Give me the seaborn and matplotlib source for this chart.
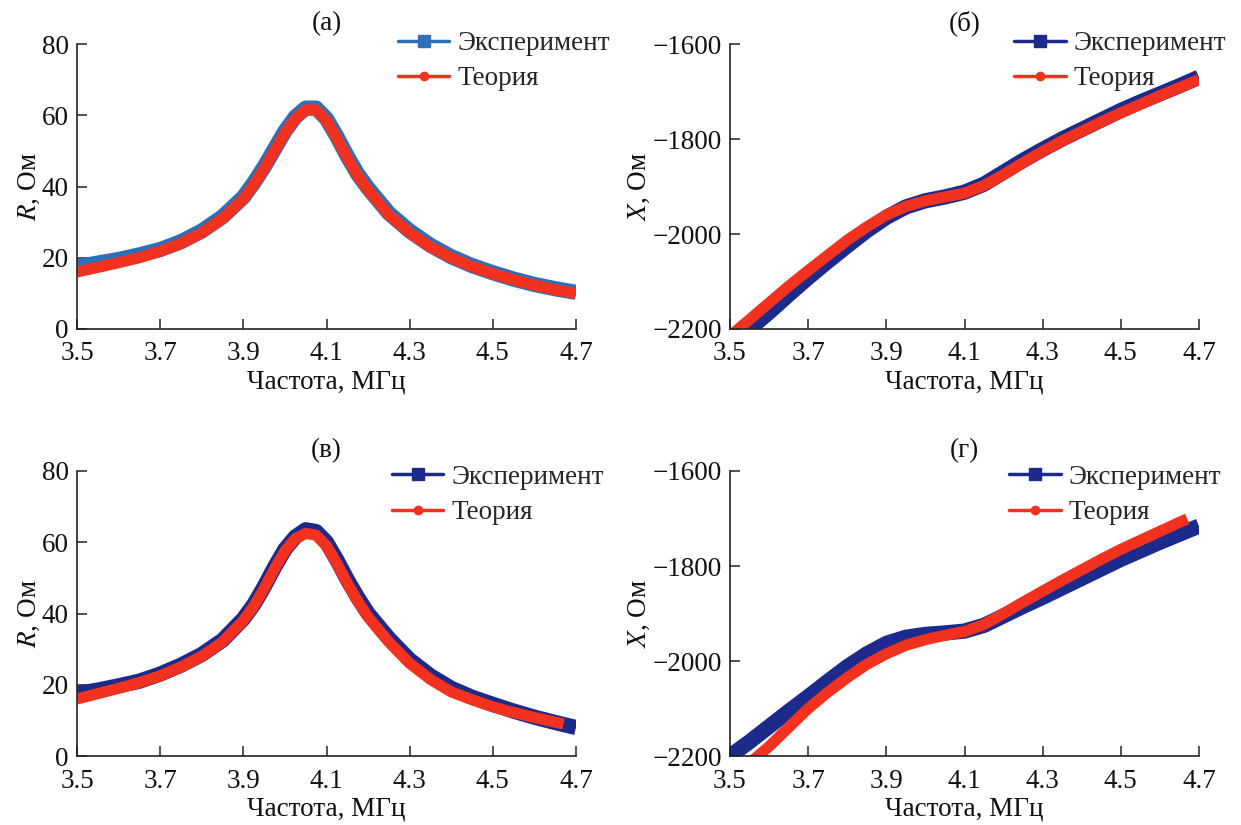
import matplotlib
matplotlib.use("Agg")
import matplotlib.pyplot as plt
from matplotlib.lines import Line2D
import seaborn as sns
import pandas as pd

# ---------------- data ----------------
freq = [3.50, 3.55, 3.60, 3.65, 3.70, 3.75, 3.80, 3.85, 3.90, 3.95, 4.00, 4.05,
        4.10, 4.15, 4.20, 4.25, 4.30, 4.35, 4.40, 4.45, 4.50, 4.55, 4.60, 4.65, 4.70]
freq_short = [3.50, 3.55, 3.60, 3.65, 3.70, 3.75, 3.80, 3.85, 3.90, 3.95, 4.00, 4.05,
              4.10, 4.15, 4.20, 4.25, 4.30, 4.35, 4.40, 4.45, 4.50, 4.55, 4.60, 4.65, 4.67]
freq_r = [3.50, 3.55, 3.60, 3.65, 3.70, 3.75, 3.80, 3.85, 3.90, 3.925, 3.95, 3.975,
          4.00, 4.025, 4.05, 4.075, 4.10, 4.125, 4.15, 4.175, 4.20, 4.25, 4.30, 4.35,
          4.40, 4.45, 4.50, 4.55, 4.60, 4.65, 4.70]
freq_r_short = [3.50, 3.55, 3.60, 3.65, 3.70, 3.75, 3.80, 3.85, 3.90, 3.925, 3.95, 3.975,
                4.00, 4.025, 4.05, 4.075, 4.10, 4.125, 4.15, 4.175, 4.20, 4.25, 4.30, 4.35,
                4.40, 4.45, 4.50, 4.55, 4.60, 4.65, 4.67]

# (а) R
r_exp_a = [17.5, 18.5, 19.5, 20.8, 22.3, 24.5, 27.5, 31.5, 37.0, 41.0, 45.5, 50.5,
           55.5, 59.5, 62.0, 62.0, 59.0, 54.0, 48.5, 43.5, 39.5, 32.5, 27.5, 23.5,
           20.3, 17.8, 15.8, 14.0, 12.5, 11.3, 10.3]
r_th_a = [16.0, 17.3, 18.6, 20.0, 21.8, 24.0, 27.0, 31.0, 36.5, 40.5, 45.0, 50.0,
          55.0, 59.0, 61.5, 61.5, 58.5, 53.5, 48.0, 43.0, 39.0, 32.0, 27.0, 23.0,
          20.0, 17.5, 15.5, 13.8, 12.3, 11.0, 10.0]

# (б) X
x_exp_b = [-2235, -2200, -2165, -2128, -2092, -2058, -2025, -1993, -1965, -1943, -1930, -1922,
           -1912, -1895, -1870, -1845, -1822, -1800, -1780, -1760, -1740, -1722, -1705, -1688, -1670]
x_th_b = [-2215, -2180, -2145, -2110, -2077, -2045, -2013, -1985, -1960, -1942, -1930, -1922,
          -1914, -1898, -1875, -1850, -1826, -1804, -1784, -1764, -1745, -1727, -1709, -1692, -1675]

# (в) R
r_exp_v = [17.5, 18.5, 19.7, 21.0, 23.0, 25.5, 28.5, 32.5, 38.5, 42.5, 47.5, 53.0,
           58.0, 61.5, 63.5, 63.0, 60.0, 55.0, 49.5, 44.5, 40.0, 33.0, 27.0, 22.5,
           19.0, 16.5, 14.5, 12.6, 10.9, 9.4, 8.0]
r_th_v = [16.0, 17.5, 19.0, 20.6, 22.5, 25.0, 28.0, 32.0, 38.0, 42.0, 47.0, 52.5,
          57.5, 61.0, 62.5, 62.0, 59.0, 54.0, 48.5, 43.5, 39.0, 32.0, 26.0, 21.5,
          18.0, 15.8, 13.8, 12.2, 10.8, 9.5, 9.0]

# (г) X
x_exp_g = [-2200, -2170, -2138, -2106, -2075, -2043, -2012, -1985, -1963, -1950, -1944, -1941,
           -1937, -1925, -1905, -1885, -1866, -1846, -1826, -1806, -1786, -1768, -1750, -1733, -1716]
x_th_g = [-2250, -2215, -2180, -2140, -2100, -2066, -2035, -2007, -1985, -1967, -1955, -1946,
          -1938, -1923, -1900, -1876, -1853, -1830, -1808, -1786, -1765, -1746, -1727, -1708, -1701]

panel_titles = ["(а)", "(б)", "(в)", "(г)"]
ylabels = ["$R$, Ом", "$X$, Ом", "$R$, Ом", "$X$, Ом"]
xlabel = "Частота, МГц"
legend_labels = ["Эксперимент", "Теория"]
xticks = [3.5, 3.7, 3.9, 4.1, 4.3, 4.5, 4.7]
r_ticks = [0, 20, 40, 60, 80]
x_ticks_y = [-2200, -2000, -1800, -1600]

# ---------------- style ----------------
sns.set_theme(style="ticks")
plt.rcParams["font.family"] = ["Liberation Serif", "DejaVu Serif"]
plt.rcParams["mathtext.fontset"] = "stix"
plt.rcParams["axes.unicode_minus"] = True

FS = 19.5
blue_light = "#2f6fb8"
navy = "#1c2a8c"
red = "#f2321e"
ink = "#111111"

fig = plt.figure(figsize=(12.41, 8.25), dpi=100)

positions = [
    (77 / 1241, 1 - 329 / 825, 499 / 1241, 285 / 825),
    (730 / 1241, 1 - 329 / 825, 469 / 1241, 285 / 825),
    (77 / 1241, 1 - 756 / 825, 499 / 1241, 285 / 825),
    (730 / 1241, 1 - 756 / 825, 469 / 1241, 285 / 825),
]

series = [
    (freq_r, r_exp_a, freq_r, r_th_a, blue_light),
    (freq, x_exp_b, freq, x_th_b, navy),
    (freq_r, r_exp_v, freq_r_short, r_th_v, navy),
    (freq, x_exp_g, freq_short, x_th_g, navy),
]

legend_x = [0.643, 0.606, 0.631, 0.595]
legend_y = [1.045, 1.045, 1.022, 1.022]

for i, (pos, (fe, ye, ft, yt, bcol)) in enumerate(zip(positions, series)):
    ax = fig.add_axes(pos)
    df_e = pd.DataFrame({"f": fe, "v": ye})
    df_t = pd.DataFrame({"f": ft, "v": yt})
    sns.lineplot(data=df_e, x="f", y="v", ax=ax, color=bcol, linewidth=11,
                 solid_capstyle="butt", solid_joinstyle="round", legend=False)
    sns.lineplot(data=df_t, x="f", y="v", ax=ax, color=red, linewidth=8,
                 solid_capstyle="butt", solid_joinstyle="round", legend=False)

    ax.set_xlim(3.5, 4.7)
    ax.set_xticks(xticks)
    ax.set_xticklabels([f"{t:.1f}" for t in xticks])
    if i in (0, 2):
        ax.set_ylim(0, 80)
        ax.set_yticks(r_ticks)
    else:
        ax.set_ylim(-2200, -1600)
        ax.set_yticks(x_ticks_y)

    sns.despine(ax=ax)
    for s in ("left", "bottom"):
        ax.spines[s].set_linewidth(1.2)
        ax.spines[s].set_color("#222222")
    ax.tick_params(direction="in", length=7, width=1.1, colors="#222222",
                   labelsize=FS, labelcolor=ink)
    ax.tick_params(axis="x", pad=9)
    ax.tick_params(axis="y", pad=6)

    ax.set_xlabel(xlabel, fontsize=FS, color=ink, labelpad=2)
    ax.set_ylabel(ylabels[i], fontsize=FS, color=ink, labelpad=0)
    ax.text(0.5, 1.072, panel_titles[i], transform=ax.transAxes, ha="center",
            va="center", fontsize=FS, color=ink)

    handles = [
        Line2D([0], [0], color=bcol, lw=2.5, marker="s", markersize=8,
               markerfacecolor=bcol, markeredgecolor=bcol),
        Line2D([0], [0], color=red, lw=2.5, marker="o", markersize=6,
               markerfacecolor=red, markeredgecolor=red),
    ]
    ax.legend(handles, legend_labels, loc="upper left",
              bbox_to_anchor=(legend_x[i], legend_y[i]), frameon=False,
              fontsize=FS, borderaxespad=0, borderpad=0, handlelength=1.9,
              handletextpad=0.3, labelspacing=0.38)

fig.savefig("out.png", dpi=100, facecolor="white")
